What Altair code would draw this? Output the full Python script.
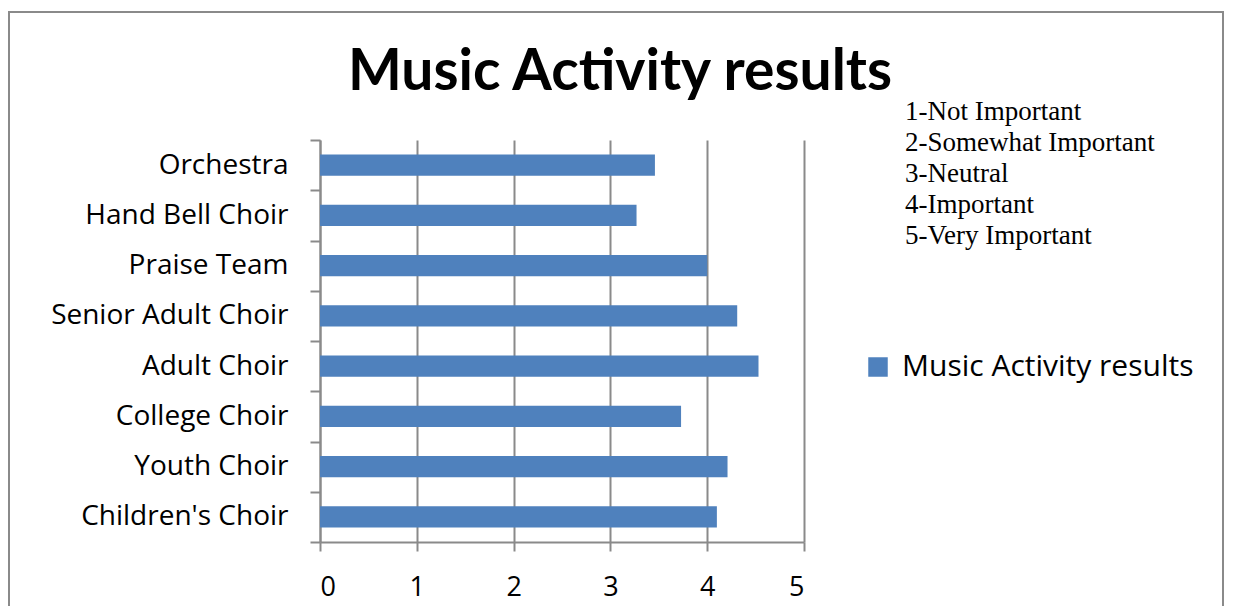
import altair as alt
import pandas as pd

categories = ["Orchestra", "Hand Bell Choir", "Praise Team", "Senior Adult Choir",
              "Adult Choir", "College Choir", "Youth Choir", "Children's Choir"]
values = [3.46, 3.27, 4.0, 4.31, 4.53, 3.73, 4.21, 4.10]
series = "Music Activity results"
title_text = "Music Activity results"
notes = ["1-Not Important", "2-Somewhat Important", "3-Neutral", "4-Important", "5-Very Important"]

df = pd.DataFrame({"activity": categories, "score": values, "series": [series] * len(categories)})

W, H = 484, 402
PAD_L, PAD_T, PAD_R, PAD_B = 312, 132, 421, 64
GRAY = "#8a8a8a"
FONT = "Open Sans"

bars = alt.Chart(df).mark_bar(color="#4F81BD", height=alt.RelativeBandSize(0.42)).encode(
    x=alt.X("score:Q", scale=alt.Scale(domain=[0, 5]),
            axis=alt.Axis(values=[0, 1, 2, 3, 4, 5], title=None, grid=True, gridColor=GRAY,
                          gridWidth=2, domainColor=GRAY, domainWidth=2, tickColor=GRAY,
                          tickWidth=2, tickSize=9, labelFontSize=27, labelFont=FONT,
                          labelColor="black", labelPadding=23, format="d")),
    y=alt.Y("activity:N", sort=categories,
            scale=alt.Scale(paddingInner=0, paddingOuter=0),
            axis=alt.Axis(title=None, tickBand="extent", domainColor=GRAY, domainWidth=2,
                          tickColor=GRAY, tickWidth=2, tickSize=10, labelFontSize=28,
                          labelFont=FONT, labelColor="black", labelPadding=22, labelLimit=0)),
    color=alt.Color("series:N", scale=alt.Scale(range=["#4F81BD"]),
                    legend=alt.Legend(title=None, orient="none", legendX=543, legendY=212,
                                      symbolType="square", symbolSize=380,
                                      symbolStrokeWidth=0, labelFontSize=30, labelFont=FONT,
                                      labelColor="black", labelOffset=9, labelLimit=0)),
)

title_layer = alt.Chart(pd.DataFrame({"t": [title_text]})).mark_text(
    align="center", baseline="alphabetic", font="Lato", fontWeight="bold",
    fontSize=57, color="black"
).encode(text="t:N", x=alt.value(300), y=alt.value(-50))

notes_layer = alt.Chart(pd.DataFrame({"k": [0]})).mark_text(
    text=notes, align="left", baseline="alphabetic", font="Liberation Serif",
    fontSize=27, lineHeight=31, color="black"
).encode(x=alt.value(585), y=alt.value(-20))

frame = alt.Chart(pd.DataFrame({"k": [0]})).mark_rect(
    fill=None, stroke=GRAY, strokeWidth=2
).encode(x=alt.value(-311), x2=alt.value(903), y=alt.value(-128), y2=alt.value(500))

chart = alt.layer(frame, bars, title_layer, notes_layer).properties(
    width=W, height=H,
    autosize=alt.AutoSizeParams(type="none"),
    padding={"left": PAD_L, "top": PAD_T, "right": PAD_R, "bottom": PAD_B},
).configure_view(stroke=None)

chart.save("out.html", embed_options={"renderer": "svg", "actions": False})
